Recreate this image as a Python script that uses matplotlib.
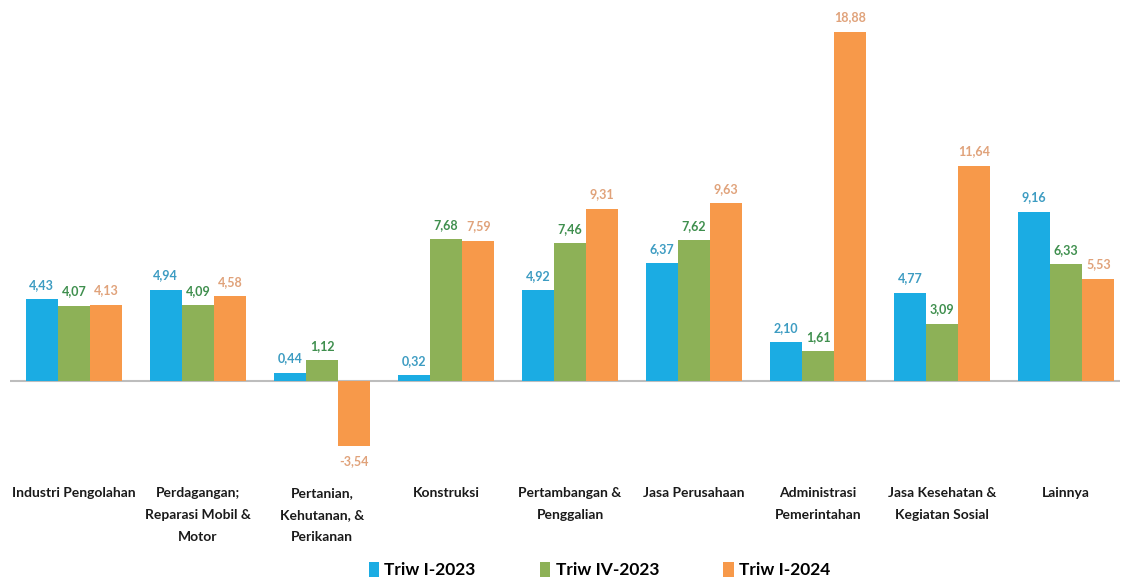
import numpy as np
import matplotlib
matplotlib.use("Agg")
import matplotlib.pyplot as plt
from matplotlib.patches import Patch

plt.rcParams['font.family'] = ['Lato', 'DejaVu Sans']

# Data
categories = [
    "Industri Pengolahan",
    "Perdagangan;\nReparasi Mobil &\nMotor",
    "Pertanian,\nKehutanan, &\nPerikanan",
    "Konstruksi",
    "Pertambangan &\nPenggalian",
    "Jasa Perusahaan",
    "Administrasi\nPemerintahan",
    "Jasa Kesehatan &\nKegiatan Sosial",
    "Lainnya",
]
series_names = ["Triw I-2023", "Triw IV-2023", "Triw I-2024"]
triw1_2023 = [4.43, 4.94, 0.44, 0.32, 4.92, 6.37, 2.10, 4.77, 9.16]
triw4_2023 = [4.07, 4.09, 1.12, 7.68, 7.46, 7.62, 1.61, 3.09, 6.33]
triw1_2024 = [4.13, 4.58, -3.54, 7.59, 9.31, 9.63, 18.88, 11.64, 5.53]

bar_colors = ["#1BACE3", "#8DB157", "#F7994A"]
label_colors = ["#3D9CC2", "#3F8F4E", "#E0A27A"]

fig = plt.figure(figsize=(11.27, 5.8), dpi=100)
ax = fig.add_axes([10 / 1127, 1 - 460 / 580, 1110 / 1127, 440 / 580])

x = np.arange(len(categories))
width = 0.26
all_series = [triw1_2023, triw4_2023, triw1_2024]

for i, vals in enumerate(all_series):
    pos = x + (i - 1) * width
    ax.bar(pos, vals, width=width, color=bar_colors[i], edgecolor="none", zorder=2)
    for xp, v in zip(pos, vals):
        txt = f"{v:.2f}".replace(".", ",")
        if v >= 0:
            ax.annotate(txt, (xp, v), xytext=(0, 6), textcoords="offset points",
                        ha="center", va="bottom", fontsize=9, fontweight="bold",
                        color=label_colors[i])
        else:
            ax.annotate(txt, (xp, v), xytext=(0, -6), textcoords="offset points",
                        ha="center", va="top", fontsize=9, fontweight="bold",
                        color=label_colors[i])

ax.axhline(0, color="#BDBDBD", linewidth=1.5, zorder=1)

# category labels below the chart
for xi, cat in zip(x, categories):
    ax.text(xi, -5.75, cat, ha="center", va="top", fontsize=10, fontweight="bold",
            color="#1a1a1a", linespacing=2.0)

ax.set_xlim(-0.516, 8.435)
ax.set_ylim(-4.27, 19.52)
ax.axis("off")

handles = [Patch(facecolor=c, edgecolor="none") for c in bar_colors]
fig.legend(handles, series_names, loc="lower center", bbox_to_anchor=(0.532, -0.024),
           ncol=3, frameon=False, handlelength=0.6, handleheight=1.0,
           handletextpad=0.3, columnspacing=3.7,
           prop={"size": 12.5, "weight": "bold"})

fig.savefig("out.png", dpi=100, facecolor="white")
